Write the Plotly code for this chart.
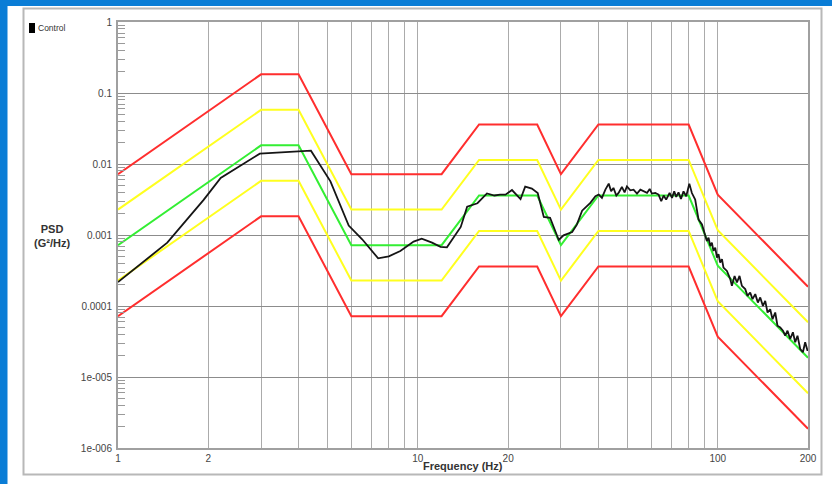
import plotly.graph_objects as go

# ---- data -------------------------------------------------------------
profile_freq = [1, 3, 4, 6, 12, 16, 25, 30, 40, 80, 100, 200]
reference_psd = [7.2e-4, 0.0183, 0.0183, 7.2e-4, 7.2e-4, 0.0036, 0.0036, 7.2e-4, 0.0036, 0.0036, 3.7e-4, 1.87e-5]
upper_abort = [7.2e-3, 0.183, 0.183, 7.2e-3, 7.2e-3, 0.036, 0.036, 7.2e-3, 0.036, 0.036, 3.7e-3, 1.87e-4]
upper_alarm = [2.28e-3, 0.0579, 0.0579, 2.28e-3, 2.28e-3, 0.0114, 0.0114, 2.28e-3, 0.0114, 0.0114, 1.17e-3, 5.9e-5]
lower_alarm = [2.28e-4, 5.79e-3, 5.79e-3, 2.28e-4, 2.28e-4, 1.14e-3, 1.14e-3, 2.28e-4, 1.14e-3, 1.14e-3, 1.17e-4, 5.9e-6]
lower_abort = [7.2e-5, 1.83e-3, 1.83e-3, 7.2e-5, 7.2e-5, 3.6e-4, 3.6e-4, 7.2e-5, 3.6e-4, 3.6e-4, 3.7e-5, 1.87e-6]

control_freq = [1.0, 1.46, 1.93, 2.2, 2.97, 4.4, 5.11, 5.88, 6.52, 7.37, 8.0, 8.74, 9.68,
                10.3, 11.15, 11.9, 12.5, 13.3, 13.9, 14.6, 15.8, 17.0, 18.0, 18.8, 19.6,
                20.6, 22.0, 22.8, 24.0, 25.1, 26.3, 27.6, 29.5, 30.6, 32.7, 33.9, 35.3,
                37.6, 39.1, 40.1, 41.1, 42.2, 43.3, 44.1, 44.9, 45.9, 46.7, 47.9, 48.9,
                49.8, 51.1, 52.4, 53.8, 55.2, 56.6, 58.1, 59.3, 60.3, 61.9, 63.5, 64.8,
                66.0, 67.3, 69.1, 70.4, 71.6, 72.7, 74.0, 75.4, 76.9, 78.5, 80.4, 82.0,
                84.1, 85.2, 86.3, 88.6, 89.7, 90.9, 92.0, 93.2, 94.4, 95.6, 96.8, 98.1,
                99.4, 100.6, 101.9, 103.3, 104.5, 107.3, 110.1, 111.5, 113.8, 115.9,
                118.2, 120.4, 123.5, 125.7, 128.3, 130.6, 133.4, 136.1, 138.6, 141.5,
                144.0, 146.6, 149.6, 152.3, 155.5, 158.2, 161.6, 165.0, 167.9, 170.9,
                174.4, 178.1, 181.3, 184.5, 188.4, 192.3, 195.7, 199.3, 200.0]
control_psd = [2.17e-4, 7.8e-4, 3.13e-3, 6.36e-3, 1.4e-2, 1.54e-2, 5.7e-3, 1.36e-3, 8.7e-4,
               4.7e-4, 5.0e-4, 5.96e-4, 8.07e-4,
               8.9e-4, 7.8e-4, 6.8e-4, 6.7e-4, 1.0e-3, 1.3e-3, 2.5e-3, 2.8e-3, 3.85e-3, 3.6e-3, 3.7e-3, 3.7e-3,
               4.3e-3, 3.2e-3, 4.8e-3, 4.5e-3, 3.9e-3, 1.8e-3, 1.75e-3, 8.5e-4, 9.9e-4, 1.1e-3, 1.4e-3, 2.2e-3,
               2.83e-3, 3.51e-3, 3.71e-3, 3.33e-3, 4.35e-3, 5.29e-3, 4.12e-3, 4.6e-3, 3.59e-3, 3.92e-3, 4.75e-3, 3.99e-3,
               4.84e-3, 4.26e-3, 4.35e-3, 3.83e-3, 4.35e-3, 4.12e-3, 3.92e-3, 4.46e-3, 3.83e-3, 3.92e-3, 3.71e-3, 2.99e-3,
               3.59e-3, 3.15e-3, 3.92e-3, 3.33e-3, 4.12e-3, 3.44e-3, 3.99e-3, 3.22e-3, 4.12e-3, 3.51e-3, 5.29e-3, 3.9e-3,
               3.15e-3, 2.28e-3, 1.65e-3, 1.41e-3, 1.19e-3, 9.7e-4, 8.2e-4, 9.2e-4, 7.0e-4, 7.8e-4, 5.96e-4, 6.65e-4,
               4.82e-4, 5.36e-4, 4.1e-4, 4.56e-4, 3.48e-4, 3.12e-4, 2.39e-4, 1.92e-4, 2.65e-4, 2.14e-4,
               2.65e-4, 1.92e-4, 1.73e-4, 1.39e-4, 1.55e-4, 1.25e-4, 1.47e-4, 1.12e-4, 1.32e-4, 1.0e-4,
               1.18e-4, 8.1e-5, 9.0e-5, 6.5e-5, 8.1e-5, 5.27e-5, 5.0e-5, 4.49e-5, 3.82e-5, 4.49e-5,
               3.43e-5, 4.26e-5, 3.08e-5, 3.82e-5, 2.48e-5, 2.23e-5, 3.08e-5, 2.35e-5, 2.48e-5]

x_tickvals = [1, 2, 10, 20, 100, 200]
x_ticktext = ["1", "2", "10", "20", "100", "200"]
x_minor_vals = [3, 4, 5, 6, 7, 8, 9, 30, 40, 50, 60, 70, 80, 90]
y_tickvals = [1, 0.1, 0.01, 0.001, 0.0001, 1e-5, 1e-6]
y_ticktext = ["1", "0.1", "0.01", "0.001", "0.0001", "1e-005", "1e-006"]
y_minor_vals = [m * 10.0 ** e for e in range(-6, 0) for m in range(2, 10)]

# ---- figure -----------------------------------------------------------
RED = "#ff2e2e"
YELLOW = "#ffff1f"
GREEN = "#33ee33"

fig = go.Figure()
for ys, col in [(upper_abort, RED), (lower_abort, RED),
                (upper_alarm, YELLOW), (lower_alarm, YELLOW),
                (reference_psd, GREEN)]:
    fig.add_trace(go.Scatter(x=profile_freq, y=ys, mode="lines",
                             line=dict(color=col, width=2), showlegend=False,
                             hoverinfo="skip"))
fig.add_trace(go.Scatter(x=control_freq, y=control_psd, mode="lines", name="Control",
                         line=dict(color="#151515", width=1.8), showlegend=False))

W, H = 832, 484
L, R, T, B = 118, 24, 22, 36
PW, PH = W - L - R, H - T - B


def px(x):
    return (x - L) / PW


def py(y):
    return (H - B - y) / PH


BLUE = "#0a7dd6"
shapes = [
    # blue window edges
    dict(type="rect", xref="paper", yref="paper", x0=px(0), x1=px(7.5), y0=py(H), y1=py(0),
         fillcolor=BLUE, line=dict(width=0), layer="below"),
    dict(type="rect", xref="paper", yref="paper", x0=px(0), x1=px(W), y0=py(6), y1=py(0),
         fillcolor=BLUE, line=dict(width=0), layer="below"),
    # outer grey frame
    dict(type="rect", xref="paper", yref="paper", x0=px(23.5), x1=px(821.5), y0=py(474.5), y1=py(8.5),
         line=dict(color="#b8b8b8", width=2), layer="below"),
    # legend square
    dict(type="rect", xref="paper", yref="paper", x0=px(29), x1=px(35), y0=py(33), y1=py(23),
         fillcolor="#000000", line=dict(width=0)),
]

axis_font = dict(family="Liberation Sans, Arial, sans-serif", size=10, color="#444444")

fig.update_layout(
    width=W, height=H, autosize=False,
    margin=dict(l=L, r=R, t=T, b=B, pad=0),
    paper_bgcolor="white", plot_bgcolor="white",
    shapes=shapes,
    annotations=[
        dict(text="<b>PSD<br>(G²/Hz)</b>", xref="paper", yref="paper", x=px(51.5), y=py(236),
             xanchor="center", yanchor="middle", showarrow=False,
             font=dict(family="Liberation Sans, Arial, sans-serif", size=11, color="#333333")),
        dict(text="<b>Frequency (Hz)</b>", xref="paper", yref="paper", x=0.5, y=py(466),
             xanchor="center", yanchor="middle", showarrow=False,
             font=dict(family="Liberation Sans, Arial, sans-serif", size=11, color="#333333")),
        dict(text="Control", xref="paper", yref="paper", x=px(35.5), y=py(28.3),
             xanchor="left", yanchor="middle", showarrow=False,
             font=dict(family="Liberation Sans, Arial, sans-serif", size=8.5, color="#333333")),
    ],
    xaxis=dict(type="log", range=[0, 2.30103], tickmode="array", tickvals=x_tickvals,
               ticktext=x_ticktext, showgrid=True, gridcolor="#ababab", gridwidth=1,
               ticks="", tickfont=axis_font, showline=True, linecolor="#a0a0a0",
               linewidth=2, mirror=True, zeroline=False, ticklabelstandoff=0,
               minor=dict(tickmode="array", tickvals=x_minor_vals, showgrid=True,
                          gridcolor="#ababab", gridwidth=1, ticks="")),
    yaxis=dict(type="log", range=[-6, 0], tickmode="array", tickvals=y_tickvals,
               ticktext=y_ticktext, showgrid=True, gridcolor="#8c8c8c", gridwidth=1,
               ticks="", tickfont=axis_font, showline=True, linecolor="#a0a0a0",
               linewidth=2, mirror=True, zeroline=False, ticklabelstandoff=2,
               minor=dict(tickmode="array", tickvals=y_minor_vals, showgrid=False,
                          ticks="inside", ticklen=7, tickcolor="#9a9a9a", tickwidth=1)),
)

fig.write_html("out.html", config={"displayModeBar": False},
               post_script="document.body.style.margin='0px';document.body.style.overflow='hidden';")
